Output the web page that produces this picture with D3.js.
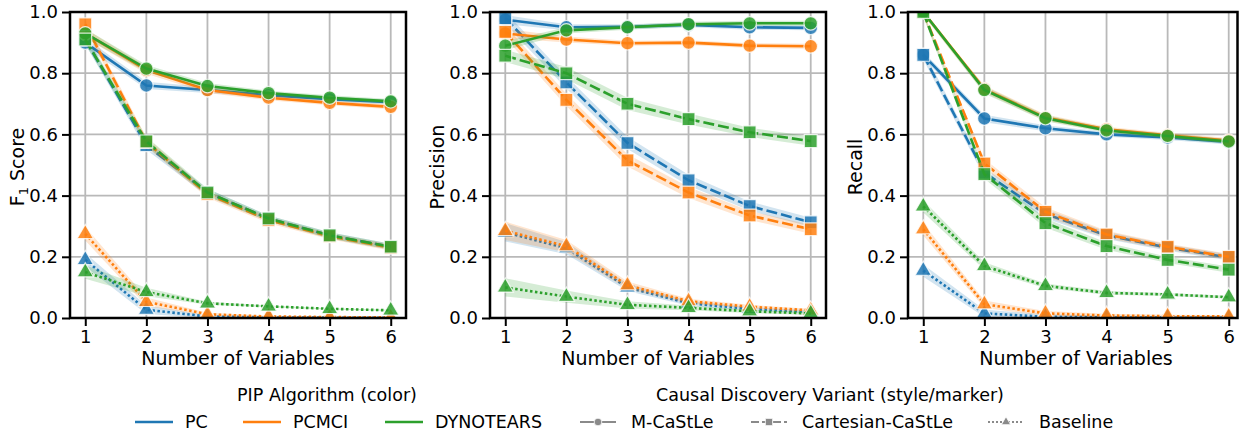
<!DOCTYPE html>
<html>
<head>
<meta charset="utf-8">
<script src="https://cdn.jsdelivr.net/npm/d3@7"></script>
<style>
  html, body { margin: 0; padding: 0; background: #fff; }
  svg { display: block; font-family: "DejaVu Sans", sans-serif; }
</style>
</head>
<body>
<svg id="chart" width="1239" height="431"></svg>
<script>
// ---- data ----------------------------------------------------------------
const variables = [1, 2, 3, 4, 5, 6];
const xTicks = [1, 2, 3, 4, 5, 6];
const yTicks = [0.0, 0.2, 0.4, 0.6, 0.8, 1.0];
const algorithms = ["PC", "PCMCI", "DYNOTEARS"];
const variants = ["M-CaStLe", "Cartesian-CaStLe", "Baseline"];
const metricLabels = ["F1 Score", "Precision", "Recall"];

// F1 score means
const f1PC        = { "M-CaStLe": [0.90, 0.760, 0.745, 0.728, 0.715, 0.705],
                      "Cartesian-CaStLe": [0.91, 0.565, 0.410, 0.325, 0.270, 0.233],
                      "Baseline": [0.190, 0.027, 0.005, 0.002, 0.001, 0.001] };
const f1PCMCI     = { "M-CaStLe": [0.93, 0.810, 0.745, 0.720, 0.703, 0.690],
                      "Cartesian-CaStLe": [0.96, 0.575, 0.405, 0.320, 0.267, 0.230],
                      "Baseline": [0.275, 0.053, 0.012, 0.005, 0.003, 0.002] };
const f1DYNOTEARS = { "M-CaStLe": [0.93, 0.815, 0.758, 0.735, 0.720, 0.708],
                      "Cartesian-CaStLe": [0.91, 0.577, 0.410, 0.325, 0.270, 0.233],
                      "Baseline": [0.150, 0.085, 0.048, 0.038, 0.030, 0.025] };

// Precision means
const precPC        = { "M-CaStLe": [0.975, 0.950, 0.952, 0.958, 0.950, 0.948],
                        "Cartesian-CaStLe": [0.980, 0.770, 0.572, 0.450, 0.366, 0.313],
                        "Baseline": [0.280, 0.228, 0.100, 0.048, 0.030, 0.020] };
const precPCMCI     = { "M-CaStLe": [0.930, 0.910, 0.898, 0.900, 0.890, 0.888],
                        "Cartesian-CaStLe": [0.935, 0.713, 0.515, 0.410, 0.335, 0.290],
                        "Baseline": [0.285, 0.235, 0.107, 0.055, 0.037, 0.025] };
const precDYNOTEARS = { "M-CaStLe": [0.890, 0.940, 0.950, 0.960, 0.963, 0.963],
                        "Cartesian-CaStLe": [0.857, 0.800, 0.700, 0.650, 0.607, 0.578],
                        "Baseline": [0.100, 0.070, 0.043, 0.033, 0.022, 0.015] };

// Recall means
const recPC        = { "M-CaStLe": [0.860, 0.652, 0.620, 0.600, 0.590, 0.575],
                       "Cartesian-CaStLe": [0.860, 0.475, 0.340, 0.270, 0.230, 0.198],
                       "Baseline": [0.155, 0.015, 0.004, 0.002, 0.001, 0.001] };
const recPCMCI     = { "M-CaStLe": [1.000, 0.748, 0.655, 0.617, 0.597, 0.580],
                       "Cartesian-CaStLe": [1.000, 0.505, 0.347, 0.273, 0.233, 0.200],
                       "Baseline": [0.290, 0.045, 0.015, 0.008, 0.006, 0.005] };
const recDYNOTEARS = { "M-CaStLe": [1.000, 0.745, 0.653, 0.613, 0.595, 0.577],
                       "Cartesian-CaStLe": [1.000, 0.470, 0.310, 0.235, 0.190, 0.158],
                       "Baseline": [0.365, 0.170, 0.105, 0.082, 0.077, 0.068] };

// Confidence-band half widths per variant
const f1Band   = { "M-CaStLe": [0.015, 0.012, 0.010, 0.008, 0.008, 0.008],
                   "Cartesian-CaStLe": [0.015, 0.015, 0.012, 0.010, 0.010, 0.010],
                   "Baseline": [0.022, 0.014, 0.005, 0.003, 0.002, 0.002] };
const precBand = { "M-CaStLe": [0.015, 0.010, 0.008, 0.008, 0.008, 0.008],
                   "Cartesian-CaStLe": [0.020, 0.020, 0.020, 0.018, 0.015, 0.015],
                   "Baseline": [0.030, 0.020, 0.012, 0.008, 0.006, 0.005] };
const recBand  = { "M-CaStLe": [0.010, 0.012, 0.010, 0.008, 0.008, 0.008],
                   "Cartesian-CaStLe": [0.015, 0.015, 0.015, 0.012, 0.010, 0.010],
                   "Baseline": [0.020, 0.012, 0.008, 0.006, 0.005, 0.005] };

const metricData = [
  { means: { PC: f1PC, PCMCI: f1PCMCI, DYNOTEARS: f1DYNOTEARS }, band: f1Band },
  { means: { PC: precPC, PCMCI: precPCMCI, DYNOTEARS: precDYNOTEARS }, band: precBand },
  { means: { PC: recPC, PCMCI: recPCMCI, DYNOTEARS: recDYNOTEARS }, band: recBand }
];

// ---- styling ---------------------------------------------------------------
const colors = { PC: "#1f77b4", PCMCI: "#ff7f0e", DYNOTEARS: "#2ca02c" };
const dashes = { "M-CaStLe": null, "Cartesian-CaStLe": "11,4", "Baseline": "2.5,2.5" };
const markerType = { "M-CaStLe": d3.symbolCircle, "Cartesian-CaStLe": d3.symbolSquare, "Baseline": d3.symbolTriangle };
const markerSize = { "M-CaStLe": 145, "Cartesian-CaStLe": 165, "Baseline": 115 };

const svg = d3.select("#chart");
const panelTop = 12, panelBottom = 318, panelWidth = 336;
const panelLefts = [70, 490, 908];
const svgWidth = 1239;

panelLefts.forEach((left, i) => {
  const x = d3.scaleLinear().domain([0.75, 6.25]).range([left, left + panelWidth]);
  const y = d3.scaleLinear().domain([0, 1]).range([panelBottom, panelTop]);
  const right = Math.min(left + panelWidth, svgWidth - 1.5);
  const g = svg.append("g");

  const clipId = "clip" + i;
  svg.append("clipPath").attr("id", clipId)
    .append("rect").attr("x", left).attr("y", panelTop)
    .attr("width", right - left).attr("height", panelBottom - panelTop);

  // grid
  const grid = g.append("g").attr("stroke", "#b9b9b9").attr("stroke-width", 1.8);
  xTicks.forEach(t => grid.append("line")
    .attr("x1", x(t)).attr("x2", x(t)).attr("y1", panelTop).attr("y2", panelBottom));
  yTicks.forEach(t => grid.append("line")
    .attr("x1", left).attr("x2", right).attr("y1", y(t)).attr("y2", y(t)));

  // series: band, line and markers for each algorithm/variant pair
  const plot = g.append("g").attr("clip-path", `url(#${clipId})`);
  const md = metricData[i];
  algorithms.forEach(alg => {
    variants.forEach(v => {
      const vals = md.means[alg][v];
      const half = md.band[v];
      const pts = variables.map((n, k) => ({ n, m: vals[k], lo: Math.max(0, vals[k] - half[k]), hi: Math.min(1, vals[k] + half[k]) }));
      plot.append("path").datum(pts)
        .attr("d", d3.area().x(d => x(d.n)).y0(d => y(d.lo)).y1(d => y(d.hi)))
        .attr("fill", colors[alg]).attr("fill-opacity", 0.2);
      plot.append("path").datum(pts)
        .attr("d", d3.line().x(d => x(d.n)).y(d => y(d.m)))
        .attr("fill", "none").attr("stroke", colors[alg]).attr("stroke-width", 2.6)
        .attr("stroke-dasharray", dashes[v]);
      plot.selectAll(null).data(pts).enter().append("path")
        .attr("d", d3.symbol().type(markerType[v]).size(markerSize[v]))
        .attr("transform", d => `translate(${x(d.n)},${y(d.m)})`)
        .attr("fill", colors[alg]).attr("fill-opacity", 0.85)
        .attr("stroke", "#fff").attr("stroke-width", 1.2).attr("stroke-opacity", 0.8);
    });
  });

  // axes
  const xAxis = g.append("g").attr("transform", `translate(0,${panelBottom})`)
    .call(d3.axisBottom(x).tickValues(xTicks).tickFormat(d3.format("d")).tickSize(8).tickPadding(4));
  const yAxis = g.append("g").attr("transform", `translate(${left},0)`)
    .call(d3.axisLeft(y).tickValues(yTicks).tickFormat(d3.format(".1f")).tickSize(8).tickPadding(4));
  [xAxis, yAxis].forEach(a => {
    a.select(".domain").remove();
    a.selectAll(".tick line").attr("stroke", "#000").attr("stroke-width", 2);
    a.selectAll(".tick text").attr("fill", "#000").style("font-size", "18px")
      .style("font-family", "DejaVu Sans, sans-serif");
  });

  // spines
  g.append("path")
    .attr("d", `M${left},${panelTop}H${right}V${panelBottom}H${left}Z`)
    .attr("fill", "none").attr("stroke", "#000").attr("stroke-width", 2.5);

  // axis labels
  g.append("text").attr("x", (x(1) + x(6)) / 2).attr("y", 365)
    .attr("text-anchor", "middle").style("font-size", "19px").text("Number of Variables");
  const yl = g.append("text")
    .attr("transform", `translate(${left - 46},${(panelTop + panelBottom) / 2 + 2}) rotate(-90)`)
    .attr("text-anchor", "middle").style("font-size", "19px");
  if (i === 0) {
    yl.append("tspan").text("F");
    yl.append("tspan").attr("dy", 4).style("font-size", "13px").text("1");
    yl.append("tspan").attr("dy", -4).text(" Score");
  } else {
    yl.text(metricLabels[i]);
  }
});

// ---- legends -------------------------------------------------------------
const legend = svg.append("g").style("font-size", "17.5px");
legend.append("text").attr("x", 327).attr("y", 401).attr("text-anchor", "middle").text("PIP Algorithm (color)");
legend.append("text").attr("x", 830).attr("y", 401).attr("text-anchor", "middle").text("Causal Discovery Variant (style/marker)");

const colorItems = [
  { name: "PC", x0: 135 },
  { name: "PCMCI", x0: 243 },
  { name: "DYNOTEARS", x0: 385 }
];
colorItems.forEach(it => {
  legend.append("line").attr("x1", it.x0).attr("x2", it.x0 + 38).attr("y1", 422).attr("y2", 422)
    .attr("stroke", colors[it.name]).attr("stroke-width", 2.6);
  legend.append("text").attr("x", it.x0 + 50).attr("y", 428).text(it.name);
});

const styleItems = [
  { name: "M-CaStLe", x0: 580 },
  { name: "Cartesian-CaStLe", x0: 751 },
  { name: "Baseline", x0: 988 }
];
styleItems.forEach(it => {
  legend.append("line").attr("x1", it.x0).attr("x2", it.x0 + 36).attr("y1", 422).attr("y2", 422)
    .attr("stroke", "#8a8a8a").attr("stroke-width", 2.2)
    .attr("stroke-dasharray", it.name === "Baseline" ? "2,2" : (it.name === "Cartesian-CaStLe" ? "8,3" : null));
  legend.append("path")
    .attr("d", d3.symbol().type(markerType[it.name]).size(markerSize[it.name] * 0.32))
    .attr("transform", `translate(${it.x0 + 18},422)`)
    .attr("fill", "#8a8a8a").attr("stroke", "#fff").attr("stroke-width", 0.8);
  legend.append("text").attr("x", it.x0 + 51).attr("y", 428).text(it.name);
});
</script>
</body>
</html>
